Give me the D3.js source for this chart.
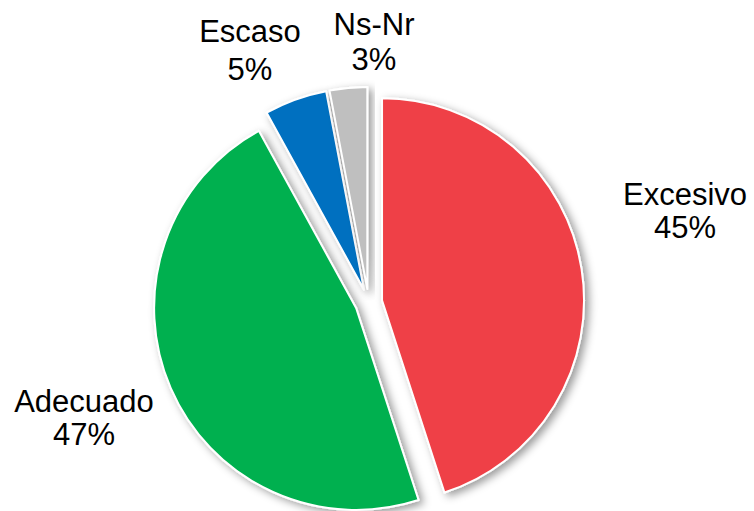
<!DOCTYPE html>
<html>
<head>
<meta charset="utf-8">
<script src="https://cdn.jsdelivr.net/npm/d3@7"></script>
<style>
  html, body { margin: 0; padding: 0; background: #fff; }
  svg text { font-family: "Liberation Sans", Arial, sans-serif; fill: #000; }
</style>
</head>
<body>
<svg id="chart" width="754" height="511"></svg>
<script>
// Survey answers, share of responses
const categories = ["Excesivo", "Adecuado", "Escaso", "Ns-Nr"];
const percents = [45, 47, 5, 3];
const colors = ["#EF4146", "#00B050", "#0070C0", "#BFBFBF"];

// Label anchors (centre x, first baseline y, line gap)
const labelPos = [
  [685, 205, 33],
  [84, 412, 33],
  [250, 42, 38],
  [374, 35, 35]
];

const width = 754, height = 511;
const cx = 368.6, cy = 302.5, radius = 202, explode = 13.6;

const svg = d3.select("#chart");

const defs = svg.append("defs");
const f = defs.append("filter").attr("id", "shadow")
  .attr("x", "-20%").attr("y", "-20%").attr("width", "140%").attr("height", "140%");
f.append("feDropShadow")
  .attr("dx", 4).attr("dy", 3).attr("stdDeviation", 4.5)
  .attr("flood-color", "#000").attr("flood-opacity", 0.4);

const pie = d3.pie().sort(null).value(d => d)
  .startAngle(0).endAngle(2 * Math.PI);
const arcs = pie(percents);
const arc = d3.arc().innerRadius(0).outerRadius(radius);

const g = svg.append("g").attr("transform", `translate(${cx},${cy})`);

g.selectAll("path.slice")
  .data(arcs)
  .join("path")
  .attr("class", "slice")
  .attr("d", arc)
  .attr("transform", d => {
    const a = (d.startAngle + d.endAngle) / 2;
    return `translate(${explode * Math.sin(a)},${-explode * Math.cos(a)})`;
  })
  .attr("fill", (d, i) => colors[i])
  .attr("stroke", "#fff")
  .attr("stroke-width", 2)
  .attr("stroke-linejoin", "round")
  .attr("filter", "url(#shadow)");

const labels = svg.selectAll("g.label")
  .data(arcs)
  .join("g")
  .attr("class", "label");

labels.append("text")
  .attr("x", (d, i) => labelPos[i][0])
  .attr("y", (d, i) => labelPos[i][1])
  .attr("text-anchor", "middle")
  .attr("font-size", 31)
  .text((d, i) => categories[i]);

labels.append("text")
  .attr("x", (d, i) => labelPos[i][0])
  .attr("y", (d, i) => labelPos[i][1] + labelPos[i][2])
  .attr("text-anchor", "middle")
  .attr("font-size", 31)
  .text(d => d.data + "%");
</script>
</body>
</html>
